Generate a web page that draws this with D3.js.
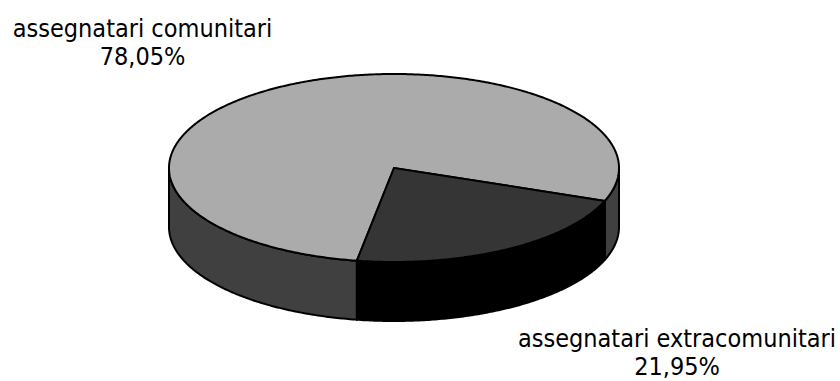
<!DOCTYPE html>
<html>
<head>
<meta charset="utf-8">
<script src="https://cdn.jsdelivr.net/npm/d3@7"></script>
<style>
  html, body { margin: 0; padding: 0; background: #fff; }
  svg { display: block; }
</style>
</head>
<body>
<svg id="chart" width="840" height="381"></svg>
<script>
// ---- data ----
const categories = ["assegnatari comunitari", "assegnatari extracomunitari"];
const values = [78.05, 21.95];
const valueLabels = ["78,05%", "21,95%"];

// ---- layout ----
const W = 840, H = 381;
const cx = 394, cy = 168, rx = 225, ry = 94, depth = 59;
const startDeg = 189.5;

const topColor = d3.scaleOrdinal().domain(categories).range(["#ababab", "#353535"]);
const sideColor = d3.scaleOrdinal().domain(categories).range(["#404040", "#000000"]);

const svg = d3.select("#chart");

const pie = d3.pie().sort(null).value(d => d.value)
  .startAngle(startDeg * Math.PI / 180)
  .endAngle(startDeg * Math.PI / 180 + 2 * Math.PI);

const data = categories.map((c, i) => ({ name: c, value: values[i], label: valueLabels[i] }));
const arcs = pie(data);

// project angle (clockwise from 12 o'clock) onto the ellipse
const px = a => cx + rx * Math.sin(a);
const py = (a, dz = 0) => cy - ry * Math.cos(a) + dz;

function arcPoints(a0, a1, dz = 0) {
  const n = Math.max(2, Math.ceil(Math.abs(a1 - a0) / 0.01));
  return d3.range(n + 1).map(i => {
    const a = a0 + (a1 - a0) * i / n;
    return [px(a), py(a, dz)];
  });
}
const line = d3.line();

// ---- side walls (front half only: angles in [90°, 270°] mod 360) ----
const sides = [];
arcs.forEach(d => {
  for (let k = 0; k < 3; k++) {
    const lo = Math.PI / 2 + 2 * Math.PI * k, hi = 3 * Math.PI / 2 + 2 * Math.PI * k;
    const a0 = Math.max(d.startAngle, lo), a1 = Math.min(d.endAngle, hi);
    if (a1 > a0) sides.push({ name: d.data.name, a0, a1 });
  }
});

svg.append("g").selectAll("path").data(sides).join("path")
  .attr("d", s => {
    const topPts = arcPoints(s.a0, s.a1, 0);
    const botPts = arcPoints(s.a1, s.a0, depth);
    return line(topPts.concat(botPts)) + "Z";
  })
  .attr("fill", s => sideColor(s.name))
  .attr("stroke", "#000")
  .attr("stroke-width", 2)
  .attr("stroke-linejoin", "round");

// ---- top faces ----
svg.append("g").selectAll("path").data(arcs).join("path")
  .attr("d", d => line([[cx, cy]].concat(arcPoints(d.startAngle, d.endAngle, 0))) + "Z")
  .attr("fill", d => topColor(d.data.name))
  .attr("stroke", "#000")
  .attr("stroke-width", 2)
  .attr("stroke-linejoin", "miter");

// ---- labels ----
const labelPos = [
  { x: 142.5, y: 37 },
  { x: 677, y: 347 }
];
const lg = svg.append("g")
  .attr("font-family", "'DejaVu Sans Condensed', 'DejaVu Sans', sans-serif")
  .attr("font-stretch", "condensed")
  .attr("font-size", 25)
  .attr("fill", "#000")
  .attr("text-anchor", "middle");
arcs.forEach((d, i) => {
  const t = lg.append("text").attr("x", labelPos[i].x).attr("y", labelPos[i].y);
  t.append("tspan").attr("x", labelPos[i].x).text(d.data.name);
  t.append("tspan").attr("x", labelPos[i].x).attr("dy", 28).text(d.data.label);
});
</script>
</body>
</html>
